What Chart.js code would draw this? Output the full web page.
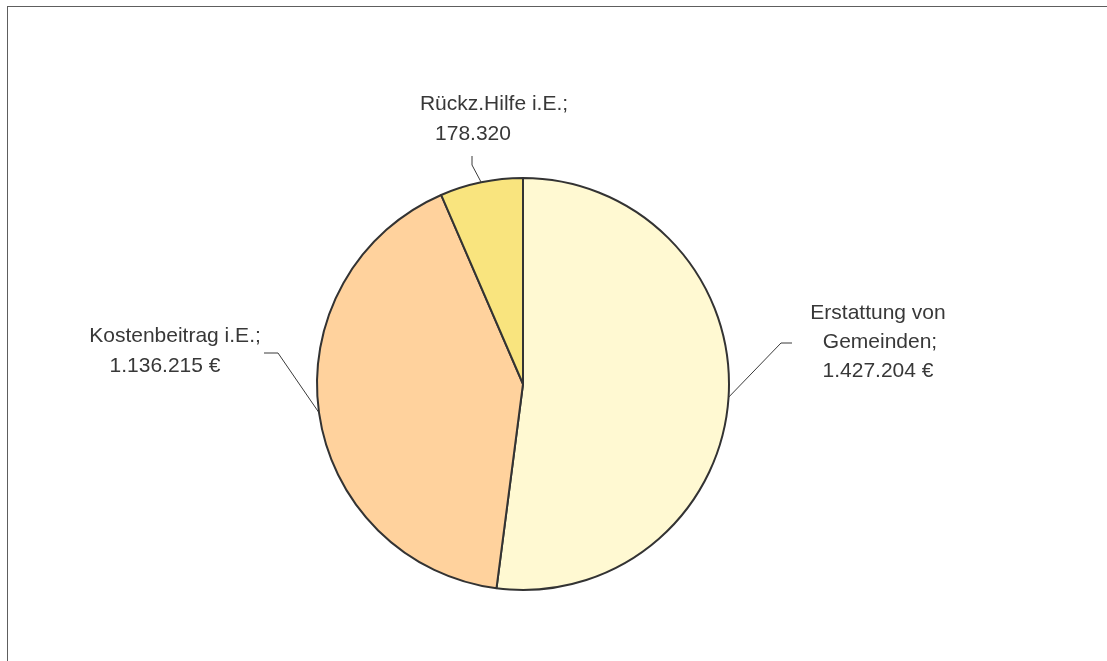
<!DOCTYPE html>
<html lang="de">
<head>
<meta charset="utf-8">
<title>Einnahmen</title>
<script src="https://cdn.jsdelivr.net/npm/chart.js@4/dist/chart.umd.min.js"></script>
<style>
  html, body { margin: 0; padding: 0; background: #fff; overflow: hidden; }
  .frame {
    position: absolute; left: 7px; top: 6px;
    width: 1300px; height: 900px;
    border: 1.5px solid #5e5e5e;
  }
  .wrap { position: absolute; left: 0; top: 0; width: 1107px; height: 661px; }
</style>
</head>
<body>
<div class="frame"></div>
<div class="wrap"><canvas id="pieChart" width="1107" height="661"></canvas></div>
<script>
// ==============================
// DATA
// ==============================
const categories = ['Erstattung von Gemeinden', 'Kostenbeitrag i.E.', 'Rückz.Hilfe i.E.'];
const amounts = [1427204, 1136215, 178320];
const sliceColors = ['#FFF9D2', '#FFD29D', '#F9E47E'];

// label text lines (as shown on the chart)
const labelLines = [
  ['Erstattung von', 'Gemeinden;', '1.427.204 €'],
  ['Kostenbeitrag i.E.;', '1.136.215 €'],
  ['Rückz.Hilfe i.E.;', '178.320']
];

// label placement: leader elbow/end points and text line centres
const labelLayout = [
  { elbow: [781, 343], end: [792, 343], xs: [878, 880, 878], y0: 313, dy: 29 },
  { elbow: [278, 353], end: [264, 353], xs: [175, 165], y0: 336, dy: 30 },
  { elbow: [472, 165], end: [472, 156], xs: [494, 473], y0: 104, dy: 30 }
];

// ==============================
// LABELS + LEADER LINES
// ==============================
const leaderLabels = {
  id: 'leaderLabels',
  afterDatasetsDraw(chart) {
    const ctx = chart.ctx;
    const arcs = chart.getDatasetMeta(0).data;
    ctx.save();
    arcs.forEach((arc, i) => {
      const p = arc.getProps(['x', 'y', 'startAngle', 'endAngle', 'outerRadius'], true);
      const mid = (p.startAngle + p.endAngle) / 2;
      const sx = p.x + Math.cos(mid) * p.outerRadius;
      const sy = p.y + Math.sin(mid) * p.outerRadius;
      const lay = labelLayout[i];

      ctx.strokeStyle = '#3a3a3a';
      ctx.lineWidth = 1;
      ctx.beginPath();
      ctx.moveTo(sx, sy);
      ctx.lineTo(lay.elbow[0], lay.elbow[1]);
      ctx.lineTo(lay.end[0], lay.end[1]);
      ctx.stroke();

      ctx.fillStyle = '#383838';
      ctx.font = '21px "Liberation Sans", Arial, sans-serif';
      ctx.textAlign = 'center';
      ctx.textBaseline = 'middle';
      labelLines[i].forEach((line, j) => {
        ctx.fillText(line, lay.xs[j], lay.y0 + j * lay.dy);
      });
    });
    ctx.restore();
  }
};

// ==============================
// PIE CHART
// ==============================
const chart = new Chart(document.getElementById('pieChart'), {
  type: 'pie',
  data: {
    labels: categories,
    datasets: [{
      data: amounts,
      backgroundColor: sliceColors,
      borderColor: '#333333',
      borderWidth: 2
    }]
  },
  options: {
    responsive: false,
    animation: false,
    events: [],
    layout: {
      padding: { left: 316, right: 377, top: 177, bottom: 70 }
    },
    plugins: {
      legend: { display: false },
      tooltip: { enabled: false }
    }
  },
  plugins: [leaderLabels]
});
</script>
</body>
</html>
